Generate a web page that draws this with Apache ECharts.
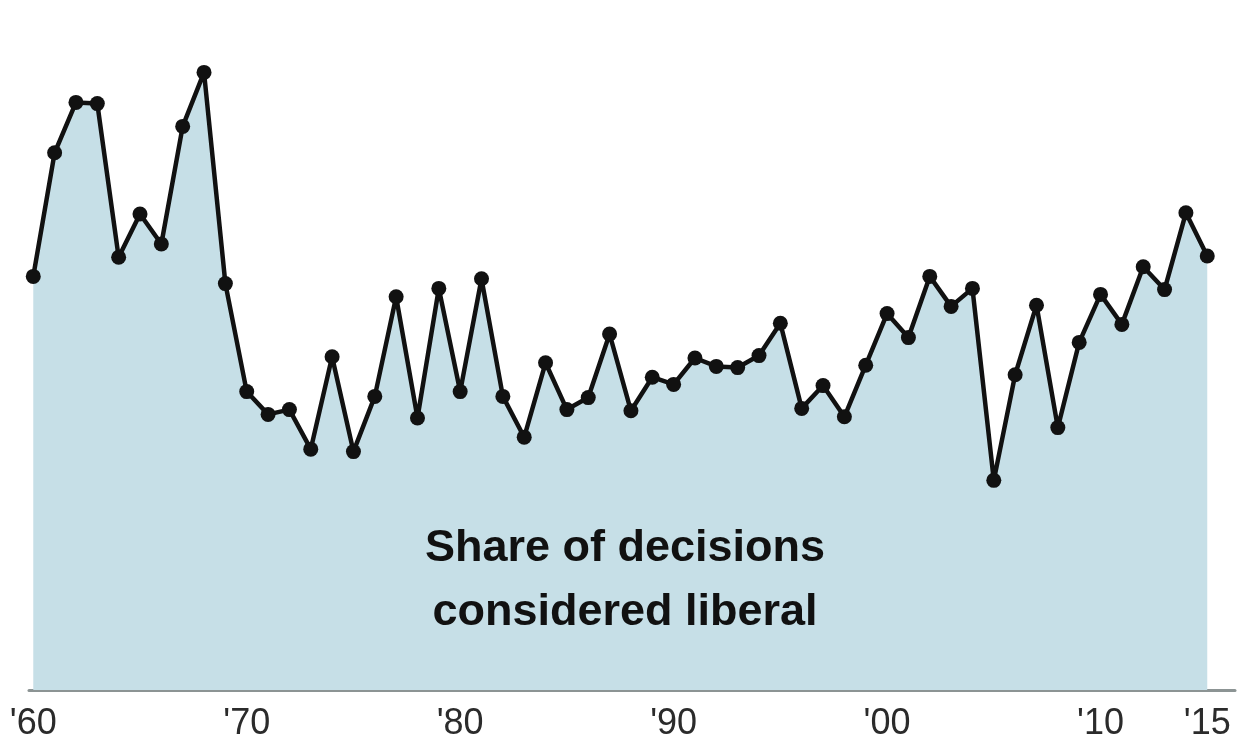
<!DOCTYPE html>
<html>
<head>
<meta charset="utf-8">
<script src="https://cdn.jsdelivr.net/npm/echarts@6/dist/echarts.min.js"></script>
<style>
  html, body { margin: 0; padding: 0; background: #fff; }
  #chart { width: 1248px; height: 743px; }
</style>
</head>
<body>
<div id="chart"></div>
<script>
// Years 1960–2015
const years = [
  1960,1961,1962,1963,1964,1965,1966,1967,1968,1969,
  1970,1971,1972,1973,1974,1975,1976,1977,1978,1979,
  1980,1981,1982,1983,1984,1985,1986,1987,1988,1989,
  1990,1991,1992,1993,1994,1995,1996,1997,1998,1999,
  2000,2001,2002,2003,2004,2005,2006,2007,2008,2009,
  2010,2011,2012,2013,2014,2015
];
// Share of decisions considered liberal (%)
const liberalShare = [
  58.3,68.6,72.8,72.7,59.9,63.5,61.0,70.8,75.3,57.7,
  48.7,46.8,47.2,43.9,51.6,43.7,48.3,56.6,46.5,57.3,
  48.7,58.1,48.3,44.9,51.1,47.2,48.2,53.5,47.1,49.9,
  49.3,51.5,50.8,50.7,51.7,54.4,47.3,49.2,46.6,50.9,
  55.2,53.2,58.3,55.8,57.3,41.3,50.1,55.9,45.7,52.8,
  56.8,54.3,59.1,57.2,63.6,60.0
];
const tickYears = [1960, 1970, 1980, 1990, 2000, 2010, 2015];
const annotationLines = ['Share of decisions', 'considered liberal'];

const chart = echarts.init(document.getElementById('chart'));
chart.setOption({
  animation: false,
  backgroundColor: '#ffffff',
  grid: { left: 29, right: 13, top: 28, bottom: 53 },
  xAxis: {
    type: 'value',
    min: 1959.8,
    max: 2016.3,
    splitLine: { show: false },
    axisTick: { show: false },
    axisLine: { show: true, lineStyle: { color: '#8c9494', width: 3 } },
    axisLabel: {
      customValues: tickYears,
      formatter: v => "'" + String(v).slice(2),
      fontFamily: 'Liberation Sans, Arial, sans-serif',
      fontSize: 36,
      color: '#2b2b2b',
      margin: 16
    }
  },
  yAxis: {
    type: 'value',
    min: 23.83,
    max: 79,
    show: false,
    splitLine: { show: false }
  },
  series: [{
    type: 'line',
    data: years.map((y, i) => [y, liberalShare[i]]),
    symbol: 'circle',
    symbolSize: 15,
    showSymbol: true,
    itemStyle: { color: '#111111' },
    lineStyle: { color: '#111111', width: 4.5 },
    areaStyle: { color: '#c6dfe7', opacity: 1, origin: 'start' },
    z: 3
  }],
  graphic: {
    elements: [{
      type: 'text',
      x: 625,
      y: 581,
      z: 100,
      style: {
        text: annotationLines.join('\n'),
        align: 'center',
        verticalAlign: 'middle',
        fontFamily: 'Liberation Sans, Arial, sans-serif',
        fontWeight: 'bold',
        fontSize: 45,
        lineHeight: 64,
        fill: '#111111'
      }
    }]
  }
});
</script>
</body>
</html>
